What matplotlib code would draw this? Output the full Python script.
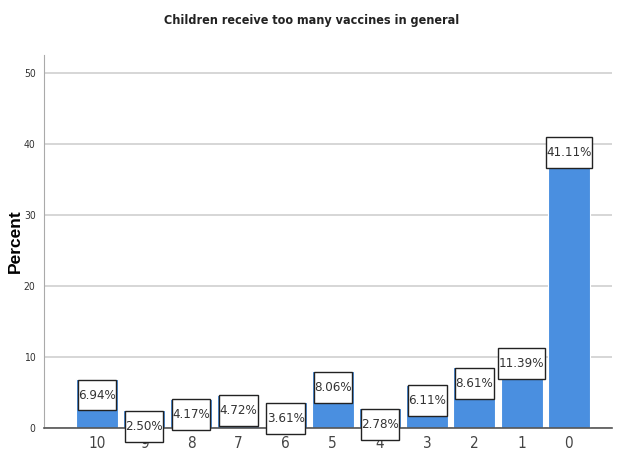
import matplotlib
matplotlib.use("Agg")
import matplotlib.pyplot as plt
from matplotlib import font_manager
from matplotlib.path import Path
import numpy as np

categories = ["10", "9", "8", "7", "6", "5", "4", "3", "2", "1", "0"]
percents = [6.94, 2.50, 4.17, 4.72, 3.61, 8.06, 2.78, 6.11, 8.61, 11.39, 41.11]
yticks = [0, 10, 20, 30, 40, 50]

plt.rcParams["font.family"] = ["Liberation Sans", "DejaVu Sans"]

# pick a narrow face if one is there (the reference text is condensed)
fonts = font_manager.fontManager.ttflist
names = {f.name for f in fonts}
narrow = dict(family="Liberation Sans")
if "Liberation Sans Narrow" in names:
    narrow = dict(family="Liberation Sans Narrow")
elif any(f.name == "DejaVu Sans" and f.stretch == "condensed" for f in fonts):
    narrow = dict(family="DejaVu Sans", stretch="condensed")

PX, PY = 0.03, 0.68


def label_box(x0, y0, width, height, mutation_size):
    # taller than wide padding, like the SPSS data labels
    px, py = PX * mutation_size, PY * mutation_size
    return Path([(x0 - px, y0 - py), (x0 + width + px, y0 - py),
                 (x0 + width + px, y0 + height + py), (x0 - px, y0 + height + py),
                 (x0 - px, y0 - py)], closed=True)


fig = plt.figure(figsize=(6.19, 4.55), dpi=100)
ax = fig.add_axes([0.071, 0.059, 0.918, 0.82])

x = np.arange(len(categories))
ax.bar(x, percents, width=0.89, color="#4a8fe0", edgecolor="white", linewidth=0.8, zorder=2)

fs = 9.5
for xi, p in zip(x, percents):
    ax.annotate(f"{p:.2f}%", (xi, p), xytext=(0, -PY * fs - 0.5), textcoords="offset points",
                ha="center", va="top", fontsize=fs, color="#333333", **narrow,
                bbox=dict(boxstyle=label_box, facecolor="white", edgecolor="#222222", linewidth=1.0),
                zorder=3)

ax.set_xlim(-1.12, 10.92)
ax.set_ylim(0, 52.5)
ax.set_xticks(x)
ax.set_xticklabels(categories, fontsize=11, color="#444444", **narrow)
ax.set_yticks(yticks)
ax.set_yticklabels([str(t) for t in yticks], fontsize=7.5, color="#333333", **narrow)
ax.tick_params(axis="both", length=0, pad=6)
ax.yaxis.grid(True, color="#d0d0d0", linewidth=1.2, zorder=0)
ax.set_axisbelow(True)
for s in ["top", "right"]:
    ax.spines[s].set_visible(False)
ax.spines["left"].set_color("#aaaaaa")
ax.spines["bottom"].set_color("#555555")
ax.spines["bottom"].set_linewidth(1.2)

ax.set_ylabel("Percent", fontsize=12.5, fontweight="bold", labelpad=1)
fig.suptitle("Children receive too many vaccines in general", fontsize=9, fontweight="bold",
             x=0.504, y=0.956, va="center", color="#222222", **narrow)

fig.savefig("out.png", dpi=100)
